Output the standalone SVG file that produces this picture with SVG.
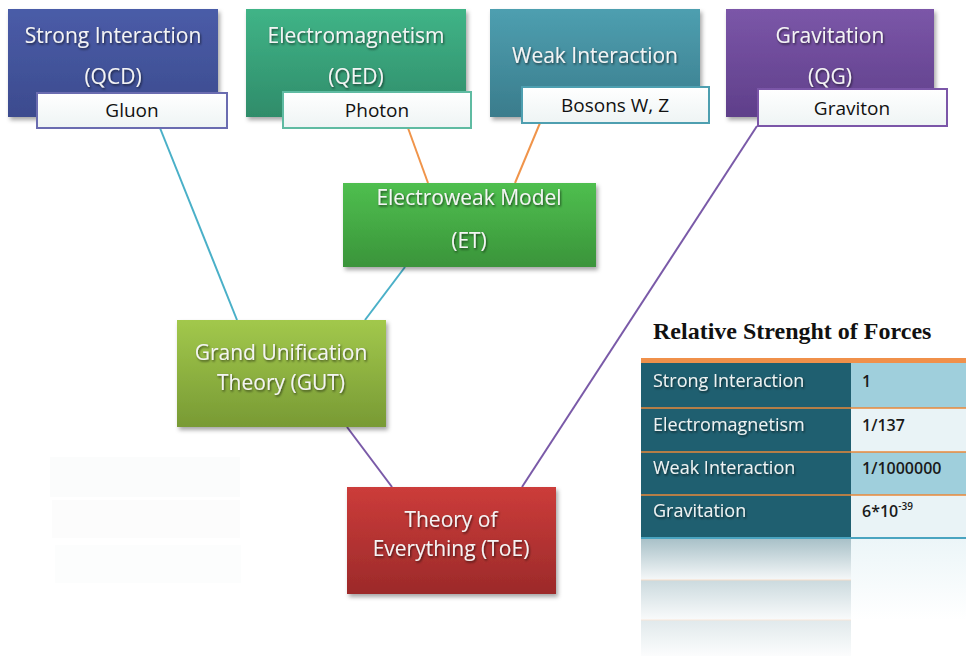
<svg xmlns="http://www.w3.org/2000/svg" width="966" height="656" viewBox="0 0 966 656">
<defs>
<linearGradient id="gBlue" x1="0" y1="0" x2="0" y2="1"><stop offset="0" stop-color="#4a5ca8"/><stop offset="1" stop-color="#3c4b8e"/></linearGradient>
<linearGradient id="gEm" x1="0" y1="0" x2="0" y2="1"><stop offset="0" stop-color="#40b487"/><stop offset="1" stop-color="#2f8c6a"/></linearGradient>
<linearGradient id="gWeak" x1="0" y1="0" x2="0" y2="1"><stop offset="0" stop-color="#4e9fb0"/><stop offset="1" stop-color="#3a7c8c"/></linearGradient>
<linearGradient id="gGrav" x1="0" y1="0" x2="0" y2="1"><stop offset="0" stop-color="#7b56a8"/><stop offset="1" stop-color="#5f3f8a"/></linearGradient>
<linearGradient id="gEw" x1="0" y1="0" x2="0" y2="1"><stop offset="0" stop-color="#4fbf4f"/><stop offset="1" stop-color="#3a943a"/></linearGradient>
<linearGradient id="gGut" x1="0" y1="0" x2="0" y2="1"><stop offset="0" stop-color="#a2c84c"/><stop offset="1" stop-color="#789a34"/></linearGradient>
<linearGradient id="gToe" x1="0" y1="0" x2="0" y2="1"><stop offset="0" stop-color="#cc3c3a"/><stop offset="1" stop-color="#9c2a2a"/></linearGradient>
<linearGradient id="gLab" x1="0" y1="0" x2="0" y2="1"><stop offset="0" stop-color="#ffffff"/><stop offset="1" stop-color="#eef4f4"/></linearGradient>
<linearGradient id="fadeL" x1="0" y1="0" x2="0" y2="1"><stop offset="0" stop-color="#3f7585" stop-opacity="0.45"/><stop offset="1" stop-color="#3f7585" stop-opacity="0.05"/></linearGradient>
<linearGradient id="fadeR" x1="0" y1="0" x2="0" y2="1"><stop offset="0" stop-color="#9fcfdc" stop-opacity="0.2"/><stop offset="1" stop-color="#9fcfdc" stop-opacity="0"/></linearGradient>
<filter id="sh" x="-10%" y="-10%" width="125%" height="130%"><feDropShadow dx="2" dy="3" stdDeviation="2" flood-color="#000" flood-opacity="0.35"/></filter>
<filter id="tsh" x="-10%" y="-20%" width="120%" height="150%"><feDropShadow dx="1" dy="1.5" stdDeviation="1" flood-color="#000" flood-opacity="0.6"/></filter>
</defs>
<style>
.nt{font-family:"Open Sans","Noto Sans",sans-serif;font-size:21px;fill:#f4f4f4;text-anchor:middle;filter:url(#tsh)}
.lt{font-family:"Open Sans","Noto Sans",sans-serif;font-size:19px;fill:#111;text-anchor:middle}
.lab{fill:url(#gLab);stroke-width:2}
.con{fill:none;stroke-width:2}
.tt{font-family:"Open Sans","Noto Sans",sans-serif;font-size:18px;fill:#eef2f2;filter:url(#tsh)}
.tv{font-family:"Open Sans","Noto Sans",sans-serif;font-size:16px;fill:#1a1a1a;font-weight:600}
.title{font-family:"Liberation Serif",serif;font-size:24px;font-weight:bold;fill:#111}
</style>
<rect width="966" height="656" fill="#ffffff"/>

<g id="connectors">
<line class="con" x1="160" y1="128" x2="237" y2="320" stroke="#4ab0c8"/>
<line class="con" x1="408" y1="128" x2="428" y2="183" stroke="#f0944a"/>
<line class="con" x1="540" y1="123" x2="515" y2="183" stroke="#f0944a"/>
<line class="con" x1="405" y1="267" x2="365" y2="320" stroke="#4ab0c8"/>
<line class="con" x1="347" y1="427" x2="392" y2="487" stroke="#7a5aa8"/>
<line class="con" x1="757" y1="126" x2="522" y2="487" stroke="#7a5aa8"/>
</g>

<g id="strong">
<rect x="8" y="9" width="210" height="108" fill="url(#gBlue)" filter="url(#sh)"/>
<text class="nt" x="113" y="43">Strong Interaction</text>
<text class="nt" x="113" y="84">(QCD)</text>
</g>
<g id="gluon">
<rect class="lab" x="37" y="93" width="190" height="35" stroke="#6a6cb0"/>
<text class="lt" x="132" y="117">Gluon</text>
</g>

<g id="em">
<rect x="246" y="9" width="220" height="108" fill="url(#gEm)" filter="url(#sh)"/>
<text class="nt" x="356" y="43">Electromagnetism</text>
<text class="nt" x="356" y="84">(QED)</text>
</g>
<g id="photon">
<rect class="lab" x="283" y="92" width="188" height="36" stroke="#5fbba2"/>
<text class="lt" x="377" y="117">Photon</text>
</g>

<g id="weak">
<rect x="490" y="9" width="210" height="108" fill="url(#gWeak)" filter="url(#sh)"/>
<text class="nt" x="595" y="63">Weak Interaction</text>
</g>
<g id="bosons">
<rect class="lab" x="522" y="87" width="187" height="36" stroke="#4e9fb0"/>
<text class="lt" x="615" y="112">Bosons W, Z</text>
</g>

<g id="grav">
<rect x="726" y="9" width="208" height="108" fill="url(#gGrav)" filter="url(#sh)"/>
<text class="nt" x="830" y="43">Gravitation</text>
<text class="nt" x="830" y="84">(QG)</text>
</g>
<g id="graviton">
<rect class="lab" x="758" y="89" width="189" height="37" stroke="#7b56a8"/>
<text class="lt" x="852" y="115">Graviton</text>
</g>

<g id="electroweak">
<rect x="343" y="183" width="253" height="84" fill="url(#gEw)" filter="url(#sh)"/>
<text class="nt" x="469" y="205">Electroweak Model</text>
<text class="nt" x="469" y="248">(ET)</text>
</g>

<g id="gut">
<rect x="177" y="320" width="209" height="107" fill="url(#gGut)" filter="url(#sh)"/>
<text class="nt" x="281" y="360">Grand Unification</text>
<text class="nt" x="281" y="390">Theory (GUT)</text>
</g>

<g id="toe">
<rect x="347" y="487" width="209" height="107" fill="url(#gToe)" filter="url(#sh)"/>
<text class="nt" x="451" y="527">Theory of</text>
<text class="nt" x="451" y="556">Everything (ToE)</text>
</g>

<g id="faint" opacity="0.3">
<rect x="50" y="457" width="190" height="40" fill="#f4f7f7"/>
<rect x="52" y="500" width="188" height="38" fill="#f6f8f8"/>
<rect x="55" y="545" width="186" height="38" fill="#f7f9f9"/>
</g>

<g id="table">
<text class="title" x="653" y="339">Relative Strenght of Forces</text>
<rect x="641" y="358" width="325" height="5" fill="#f0904a"/>
<rect x="641" y="363" width="210" height="175" fill="#1f5f70"/>
<rect x="851" y="363" width="115" height="45" fill="#9fcfdc"/>
<rect x="851" y="408" width="115" height="44" fill="#e9f3f6"/>
<rect x="851" y="452" width="115" height="43" fill="#9fcfdc"/>
<rect x="851" y="495" width="115" height="43" fill="#e9f3f6"/>
<line x1="641" y1="408" x2="966" y2="408" stroke="#e8883a" stroke-width="1.5"/>
<line x1="641" y1="452" x2="966" y2="452" stroke="#e8883a" stroke-width="1.5"/>
<line x1="641" y1="495" x2="966" y2="495" stroke="#e8883a" stroke-width="1.5"/>
<line x1="641" y1="538" x2="966" y2="538" stroke="#4aa4c0" stroke-width="2"/>
<rect x="641" y="539" width="210" height="41" fill="url(#fadeL)"/>
<rect x="641" y="580" width="210" height="40" fill="url(#fadeL)" opacity="0.6"/>
<rect x="641" y="620" width="210" height="36" fill="url(#fadeL)" opacity="0.35"/>
<rect x="851" y="539" width="115" height="81" fill="url(#fadeR)"/>
<line x1="641" y1="580" x2="851" y2="580" stroke="#f6dcc8" stroke-width="1"/>
<line x1="641" y1="620" x2="851" y2="620" stroke="#f8e6d8" stroke-width="1"/>
<text class="tt" x="653" y="387">Strong Interaction</text>
<text class="tt" x="653" y="431">Electromagnetism</text>
<text class="tt" x="653" y="474">Weak Interaction</text>
<text class="tt" x="653" y="517">Gravitation</text>
<text class="tv" x="862" y="387">1</text>
<text class="tv" x="862" y="431">1/137</text>
<text class="tv" x="862" y="474">1/1000000</text>
<text class="tv" x="862" y="517">6*10<tspan font-size="10" dy="-7">-39</tspan></text>
</g>
</svg>
